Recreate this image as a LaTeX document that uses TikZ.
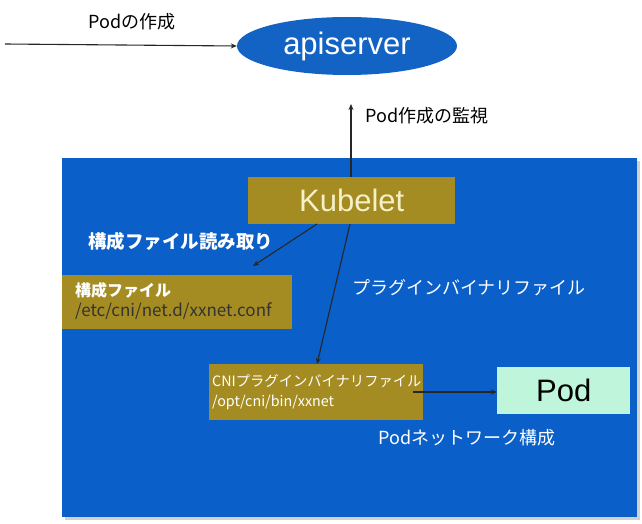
\documentclass[tikz,border=0pt]{standalone}
\usepackage{fontspec}
\setmainfont{Noto Sans CJK JP}
\newfontfamily\latinsans{Liberation Sans}
\usetikzlibrary{arrows.meta,shapes.geometric}
\definecolor{bgblue}{HTML}{0B5FC8}
\definecolor{ellblue}{HTML}{1263C4}
\definecolor{gold}{HTML}{A58C22}
\definecolor{podgreen}{HTML}{BFF5DA}
\definecolor{kubetext}{HTML}{F4F0C8}
\tikzset{
  goldbox/.style={fill=gold, draw=none, inner sep=0pt},
  lbl/.style={font=\fontsize{18}{21}\selectfont, inner sep=0pt},
  wlbl/.style={lbl, text=white},
  conn/.style={draw=black!85, line width=1.1pt},
  arr/.style={conn, -{Stealth[length=6pt,width=5pt]}},
}
\begin{document}
\begin{tikzpicture}[x=1pt,y=-1pt]
\useasboundingbox (0,0) rectangle (642,524);
% background panel with shadow
\fill[black!18] (65,161) rectangle (640,520);
\node[fill=bgblue, minimum width=575pt, minimum height=359pt, inner sep=0pt, anchor=north west] (panel) at (62,158) {};
% apiserver
\node[ellipse, fill=ellblue, minimum width=220pt, minimum height=58pt, inner sep=0pt, text=white, font=\latinsans\fontsize{31}{34}\selectfont] (api) at (347,46) {apiserver};
\coordinate (start) at (5,44);
\draw[arr] (start) -- (api.west);
\node[lbl, anchor=west] (lcreate) at (88,22) {Podの作成};
% kubelet
\node[goldbox, minimum width=207pt, minimum height=47pt, anchor=north west, text=kubetext, font=\latinsans\fontsize{31}{34}\selectfont] (kube) at (248,177) {Kubelet};
\coordinate (apibot) at (351,104);
\draw[arr] (kube.north -| apibot) -- (apibot);
\node[lbl, anchor=west] (lwatch) at (365,116) {Pod作成の監視};
% config box
\node[goldbox, minimum width=230pt, minimum height=54pt, anchor=north west] (conf) at (62,275) {};
\node[anchor=west, inner sep=0pt, text=white, font=\bfseries\fontsize{16}{19}\selectfont] (conft1) at (75,290) {構成ファイル};
\node[anchor=west, inner sep=0pt, text=black!80, font=\fontsize{17}{20}\selectfont] (conft2) at (75,311) {/etc/cni/net.d/xxnet.conf};
\coordinate (k1) at (317,224);
\coordinate (c1) at (253,266);
\draw[arr] (k1) -- (c1);
\node[wlbl, anchor=west, font=\bfseries\fontsize{18.5}{21}\selectfont] (lread) at (88,241) {構成ファイル読み取り};
% CNI box
\node[goldbox, minimum width=214pt, minimum height=56pt, anchor=north west] (cni) at (209,364) {};
\node[anchor=west, inner sep=0pt, text=white, font=\fontsize{14.3}{17}\selectfont] (cnit1) at (212,381) {CNIプラグインバイナリファイル};
\node[anchor=west, inner sep=0pt, text=white, font=\fontsize{14.3}{17}\selectfont] (cnit2) at (212,402) {/opt/cni/bin/xxnet};
\coordinate (k2) at (350,224);
\coordinate (cn) at (317,364);
\draw[arr] (k2) -- (cn);
\node[wlbl, anchor=west] (lbin) at (352,288) {プラグインバイナリファイル};
% Pod
\node[fill=podgreen, minimum width=133pt, minimum height=47pt, inner sep=0pt, anchor=north west, font=\latinsans\fontsize{31}{34}\selectfont] (pod) at (497,367) {Pod};
\coordinate (cnr) at (413,392);
\draw[arr] (cnr) -- (cnr -| pod.west);
\node[wlbl, anchor=west] (lnet) at (378,438) {Podネットワーク構成};
\end{tikzpicture}
\end{document}
